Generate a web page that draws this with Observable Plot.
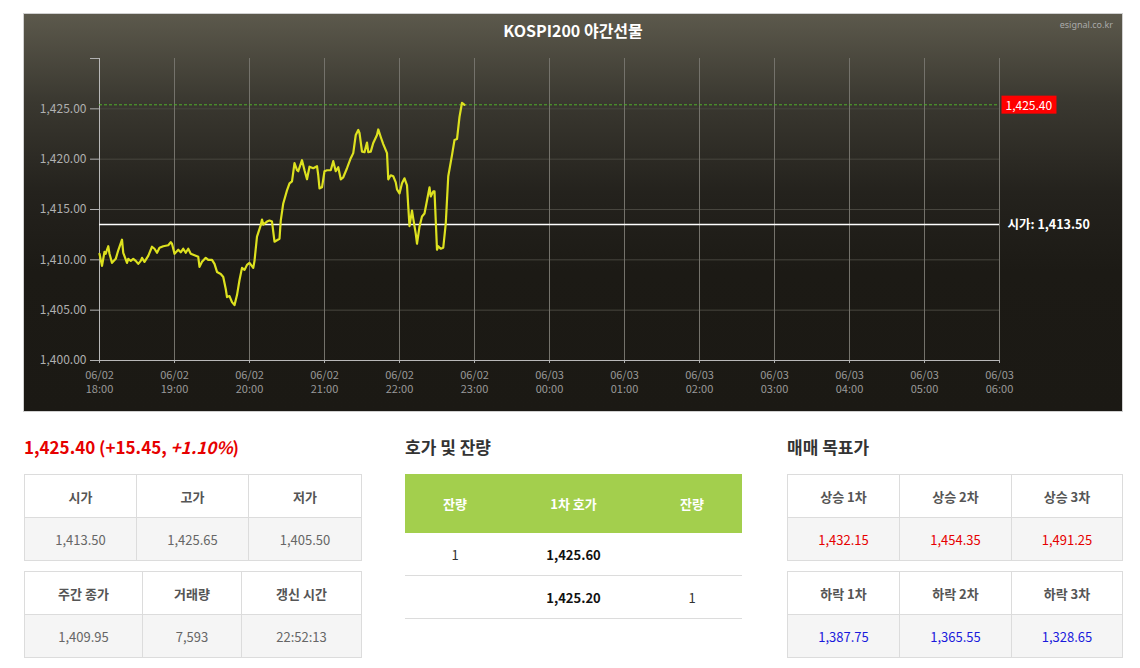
<!DOCTYPE html>
<html><head><meta charset="utf-8">
<script src="https://cdn.jsdelivr.net/npm/d3@7"></script>
<script src="https://cdn.jsdelivr.net/npm/@observablehq/plot@0.6"></script>
<style>
body{margin:0;background:#fff;font-family:"Noto Sans CJK KR","Noto Sans",sans-serif;width:1140px;height:668px;position:relative;overflow:hidden}
#panel{position:absolute;left:24px;top:14px;width:1098px;height:397px;background:linear-gradient(#5c594c 0%,#3a3830 22%,#24221d 45%,#1c1a15 65%,#1b1914 100%);box-shadow:0 0 0 1px #d0d0d0}
#title{position:absolute;left:0;width:100%;top:6px;text-align:center;color:#fff;font-weight:bold;font-size:16px;line-height:20px}
#src{position:absolute;right:9px;top:4px;color:#aaa;font-size:9px;font-family:"Noto Sans",sans-serif}
#chart{position:absolute;left:0;top:0}
.h{position:absolute;font-weight:bold;font-size:17px;color:#333;line-height:24px}
#price{color:#e60000}
table{position:absolute;border-collapse:collapse;table-layout:fixed;font-size:13px}
.t td{border:1px solid #dcdcdc;text-align:center;color:#666;height:42px;padding:0}
.t tr.hd td{background:#fff;color:#555;font-weight:bold}
.t tr.vl td{background:#f5f5f5}
.g td{text-align:center;padding:0;border-bottom:1px solid #dcdcdc;color:#333;height:42px}
.g tr.hd td{background:#a3cf4d;color:#fff;font-weight:bold;height:59px;border-bottom:none}
.g td.b{font-weight:bold;color:#111}
.t tr.up td{color:#e60000}
.t tr.dn td{color:#1a1adc}
</style></head>
<body>
<div id="panel"><div id="chart"></div><div id="title">KOSPI200 야간선물</div><div id="src">esignal.co.kr</div></div>
<div class="h" id="price" style="left:24px;top:435px">1,425.40 (+15.45, <i>+1.10%</i>)</div>
<div class="h" style="left:405px;top:435px">호가 및 잔량</div>
<div class="h" style="left:787px;top:435px">매매 목표가</div>
<div id="tables"></div>
<script>
// ---- data ----
const times = ["18:00","18:02","18:04","18:05","18:06","18:07","18:08","18:10","18:13","18:15","18:18","18:19","18:22","18:23","18:25","18:27","18:29","18:31","18:33","18:34","18:36","18:39","18:42","18:44","18:46","18:48","18:51","18:55","18:57","18:58",
"19:00","19:03","19:05","19:07","19:09","19:11","19:13","19:17","19:19","19:20","19:22","19:25","19:27","19:30","19:32","19:34","19:37","19:39","19:41","19:42","19:44","19:46","19:48","19:50","19:52","19:54","19:56","19:58",
"20:00","20:03","20:04","20:06","20:09","20:10","20:11","20:14","20:16","20:18","20:20","20:22","20:24","20:25","20:27","20:30","20:32","20:34","20:36","20:38","20:39","20:42","20:44","20:46","20:48","20:51","20:54","20:55","20:56","20:58",
"21:00","21:02","21:05","21:07","21:09","21:11","21:13","21:15","21:18","21:21","21:23","21:25","21:27","21:28","21:30","21:32","21:34","21:35","21:37","21:39","21:42","21:43","21:45","21:47","21:50","21:51","21:53","21:55","21:57","21:58",
"22:00","22:02","22:04","22:06","22:07","22:08","22:10","22:11","22:13","22:14","22:16","22:18","22:20","22:22","22:24","22:25","22:27","22:28","22:30","22:31","22:33","22:35","22:37","22:39","22:42","22:44","22:46","22:48","22:50","22:52"];
const values = [1410.60,1409.40,1410.80,1410.60,1411.00,1411.35,1410.60,1409.70,1410.10,1410.95,1412.00,1410.70,1409.70,1410.10,1409.90,1410.10,1409.90,1409.60,1409.90,1410.20,1409.80,1410.40,1411.30,1411.10,1410.70,1411.20,1411.35,1411.45,1411.75,1411.60,
1410.60,1411.00,1410.75,1411.10,1410.70,1411.10,1410.60,1410.40,1410.30,1409.30,1409.80,1410.20,1410.00,1410.00,1409.60,1408.80,1408.60,1408.30,1407.10,1406.30,1406.40,1405.80,1405.50,1406.50,1408.00,1409.20,1409.00,1409.50,
1409.70,1409.20,1409.90,1412.30,1413.45,1414.00,1413.50,1413.80,1413.90,1413.80,1411.80,1411.95,1412.10,1413.90,1415.60,1416.90,1417.60,1417.80,1419.60,1418.90,1418.80,1419.90,1418.90,1418.00,1419.25,1419.10,1419.30,1418.40,1417.10,1417.20,
1418.80,1418.90,1418.90,1419.80,1418.80,1419.20,1418.00,1418.20,1419.10,1420.10,1420.60,1422.40,1422.90,1422.60,1420.75,1420.70,1421.65,1420.70,1420.75,1421.60,1422.40,1422.95,1422.20,1421.50,1420.60,1418.00,1418.40,1418.30,1417.70,1417.00,
1416.60,1417.60,1418.10,1417.40,1415.30,1413.35,1414.90,1414.10,1412.60,1411.60,1413.30,1414.30,1414.60,1415.90,1417.20,1416.30,1416.80,1416.80,1411.00,1411.35,1411.10,1411.20,1413.60,1418.30,1420.40,1421.90,1422.00,1424.20,1425.60,1425.40];
const yTicks = [1400,1405,1410,1415,1420,1425,1430];
const lastPrice = 1425.40;
const openPrice = 1413.50;
const lastLabel = "1,425.40";
const openLabel = "시가: 1,413.50";

const summary1Head = ["시가","고가","저가"];
const summary1Vals = ["1,413.50","1,425.65","1,405.50"];
const summary2Head = ["주간 종가","거래량","갱신 시간"];
const summary2Vals = ["1,409.95","7,593","22:52:13"];
const bookHead = ["잔량","1차 호가","잔량"];
const bookRows = [["1","1,425.60",""],["","1,425.20","1"]];
const upHead = ["상승 1차","상승 2차","상승 3차"];
const upVals = ["1,432.15","1,454.35","1,491.25"];
const dnHead = ["하락 1차","하락 2차","하락 3차"];
const dnVals = ["1,387.75","1,365.55","1,328.65"];

// ---- chart ----
const x0 = new Date(2025,5,2,18,0), x1 = new Date(2025,5,3,6,0);
const parse = t => { const [h,m] = t.split(":").map(Number); return new Date(2025,5,h<12?3:2,h,m); };
const data = times.map((t,i)=>({t:parse(t), v:values[i]}));
const hours = d3.timeHour.range(x0, new Date(+x1+1));
const fmtY = d => d===1430 ? "" : d3.format(",.2f")(d);
const fmtX = d => d3.timeFormat("%m/%d")(d) + "\n" + d3.timeFormat("%H:%M")(d);
const font = '"Noto Sans CJK KR","Noto Sans",sans-serif';

const chart = Plot.plot({
  width:1098, height:397,
  marginLeft:75, marginRight:123, marginTop:44, marginBottom:51,
  style:{background:"transparent", color:"#a8a8a8", fontFamily:font, fontSize:"11px", overflow:"visible"},
  x:{type:"time", domain:[x0,x1]},
  y:{domain:[1400,1430]},
  marks:[
    Plot.ruleY(yTicks.slice(1,-1), {stroke:"#48463f", strokeWidth:1}),
    Plot.ruleX(hours.slice(1), {stroke:"#74726b", strokeWidth:1}),
    Plot.axisY({ticks:yTicks, tickFormat:fmtY, tickSize:9, tickPadding:4, label:null, fontSize:12, stroke:"#b0b0b0", fill:"#b0b0b0"}),
    Plot.axisX({ticks:hours, tickFormat:fmtX, tickSize:3, tickPadding:5, label:null, lineHeight:1.3, stroke:"#b0b0b0", fill:"#9a9a9a"}),
    Plot.ruleY([1400], {stroke:"#b8b8b8"}),
    Plot.ruleX([x0], {stroke:"#b8b8b8"}),
    Plot.ruleY([lastPrice], {stroke:"#4fb02a", strokeDasharray:"3,2", strokeWidth:1}),
    Plot.ruleY([openPrice], {stroke:"#ffffff", strokeWidth:1.5}),
    Plot.line(data, {x:"t", y:"v", stroke:"#dde11f", strokeWidth:2.2, curve:"linear"}),
    Plot.text([{t:x1, v:lastPrice, s:lastLabel}], {x:"t", y:"v", text:"s", textAnchor:"start", dx:6, dy:1.5, fill:"#fff", fontSize:12, className:"lastlbl"}),
    Plot.text([{t:x1, v:openPrice, s:openLabel}], {x:"t", y:"v", text:"s", textAnchor:"start", dx:8, fill:"#fff", fontSize:12.5, fontWeight:"bold"})
  ]
});
document.getElementById("chart").appendChild(chart);
// red box behind last price label
const lt = chart.querySelector(".lastlbl text");
if (lt) {
  const b = lt.getBBox();
  const r = document.createElementNS("http://www.w3.org/2000/svg","rect");
  r.setAttribute("x", b.x-4); r.setAttribute("y", b.y-0.5);
  r.setAttribute("width", b.width+8); r.setAttribute("height", b.height+1);
  r.setAttribute("fill", "#ff0000");
  r.setAttribute("transform", lt.getAttribute("transform")||"");
  lt.parentNode.insertBefore(r, lt);
}

// ---- tables ----
function addCols(t, cols){
  const cg = document.createElement("colgroup");
  cols.forEach(w=>{const c=document.createElement("col"); c.style.width=w+"px"; cg.appendChild(c);});
  t.appendChild(cg);
}
function grid(left, top, width, cols, head, vals, extra){
  const t = document.createElement("table");
  t.className = "t";
  t.style.left = left+"px"; t.style.top = top+"px"; t.style.width = width+"px";
  addCols(t, cols);
  const h = t.insertRow(); h.className="hd"; head.forEach(s=>{h.insertCell().textContent=s;});
  const v = t.insertRow(); v.className="vl" + (extra?(" "+extra):""); vals.forEach(s=>{v.insertCell().textContent=s;});
  document.getElementById("tables").appendChild(t);
}
grid(24, 474, 337, [112,112,113], summary1Head, summary1Vals);
grid(24, 571, 337, [118,99,120], summary2Head, summary2Vals);
grid(787, 474, 335, [112,112,111], upHead, upVals, "up");
grid(787, 571, 335, [112,112,111], dnHead, dnVals, "dn");

const g = document.createElement("table");
g.className="g"; g.style.left="405px"; g.style.top="474px"; g.style.width="337px";
addCols(g, [100,137,100]);
const gh = g.insertRow(); gh.className="hd"; bookHead.forEach(s=>{gh.insertCell().textContent=s;});
bookRows.forEach(row=>{ const r=g.insertRow(); row.forEach((s,i)=>{const c=r.insertCell(); c.textContent=s; if(i===1) c.className="b";}); });
document.getElementById("tables").appendChild(g);
</script>
</body></html>
